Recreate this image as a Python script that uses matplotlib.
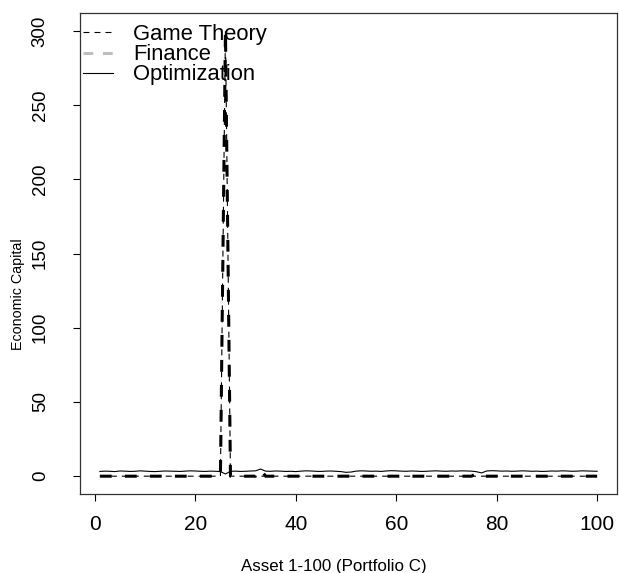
import matplotlib
matplotlib.use("Agg")
import matplotlib.pyplot as plt
from matplotlib.lines import Line2D

plt.rcParams['font.family'] = ['Liberation Sans', 'DejaVu Sans']
plt.rcParams['lines.scale_dashes'] = False

assets = list(range(1, 101))

game_theory = [0.0] * 100
game_theory[25] = 300.0  # asset 26

finance = [0.0] * 100
finance[25] = 300.0
finance[32] = 4.5
finance[75] = 2.0

optimization = [
    3.2, 3.4, 3.3, 3.1, 3.5, 3.4, 3.2, 3.3, 3.6, 3.4,
    3.2, 3.1, 3.3, 3.5, 3.4, 3.3, 3.2, 3.4, 3.6, 3.5,
    3.3, 3.2, 3.4, 3.3, 3.1, 1.5, 3.3, 3.4, 3.2, 3.3,
    3.5, 3.6, 4.8, 3.4, 3.3, 3.5, 3.4, 3.2, 3.3, 3.1,
    3.4, 3.6, 3.5, 3.3, 3.2, 3.4, 3.5, 3.3, 3.1, 2.6,
    2.8, 3.4, 3.6, 3.5, 3.3, 3.4, 3.2, 3.5, 3.7, 3.6,
    3.4, 3.3, 3.5, 3.4, 3.2, 3.3, 3.5, 3.6, 3.4, 3.3,
    3.5, 3.4, 3.6, 3.5, 3.4, 3.0, 2.2, 3.5, 3.7, 3.6,
    3.4, 3.5, 3.3, 3.4, 3.6, 3.5, 3.3, 3.4, 3.2, 3.3,
    3.5, 3.4, 3.6, 3.5, 3.3, 3.4, 3.6, 3.5, 3.4, 3.3,
]

series_names = ["Game Theory", "Finance", "Optimization"]
xticks = [0, 20, 40, 60, 80, 100]
yticks = [0, 50, 100, 150, 200, 250, 300]

W, H = 619, 573
fig = plt.figure(figsize=(W / 100, H / 100), dpi=100)
ax = fig.add_axes([80 / W, 1 - 494 / H, (617 - 80) / W, (494 - 13) / H])

ax.plot(assets, finance, color='black', lw=2.2, dashes=(8.5, 9.5), dash_capstyle='butt', zorder=3)
ax.plot(assets, game_theory, color='black', lw=0.8, dashes=(4.3, 3.6), zorder=4)
ax.plot(assets, optimization, color='black', lw=0.8, zorder=2)

ax.set_xlim(1 - 0.04 * 99, 100 + 0.04 * 99)
ax.set_ylim(-0.04 * 300, 300 * 1.04)
ax.set_xticks(xticks)
ax.set_yticks(yticks)
ax.set_xticklabels([str(t) for t in xticks], fontsize=15)
ax.set_yticklabels([str(t) for t in yticks], fontsize=13.5, rotation=90, va='center')
ax.tick_params(direction='out', length=5, width=0.8)
ax.tick_params(axis='x', pad=10)
ax.tick_params(axis='y', pad=17.5)
for s in ax.spines.values():
    s.set_linewidth(0.9)
    s.set_color('#333333')

fig.text(334 / W, 1 - 566 / H, "Asset 1-100 (Portfolio C)", fontsize=12.2,
         ha='center', va='center')
fig.text(18 / W, 1 - 294 / H, "Economic Capital", fontsize=10.3,
         ha='center', va='center', rotation=90)

handles = [
    Line2D([], [], color='black', lw=0.8, dashes=(4.3, 3.6)),
    Line2D([], [], color='#BEBEBE', lw=2.2, dashes=(7, 7)),
    Line2D([], [], color='black', lw=0.8),
]
ax.legend(handles, series_names, loc='upper left', frameon=False, fontsize=15.8,
          handlelength=1.38, handletextpad=0.92, labelspacing=-0.04,
          borderpad=0.0, borderaxespad=0.0, bbox_to_anchor=(0.005, 0.977))

fig.savefig("out.png", dpi=100)
